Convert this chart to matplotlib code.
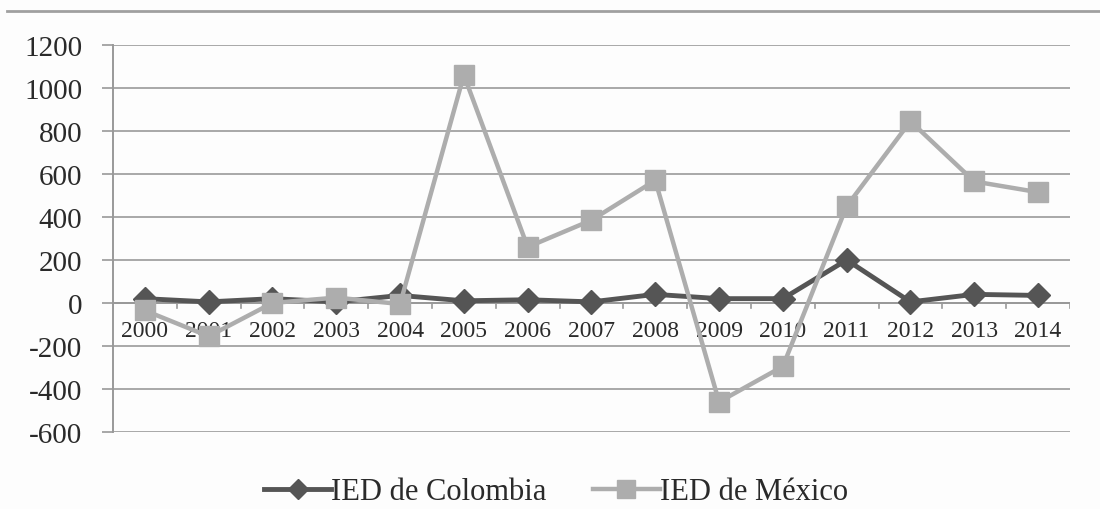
import matplotlib
matplotlib.use("Agg")
import matplotlib.pyplot as plt  # noqa: E402
from matplotlib.lines import Line2D  # noqa: E402
from matplotlib import rcParams  # noqa: E402

rcParams["font.family"] = "Liberation Serif"
rcParams["axes.unicode_minus"] = False

# foreign direct investment, yearly
years = ["2000", "2001", "2002", "2003", "2004", "2005", "2006", "2007",
         "2008", "2009", "2010", "2011", "2012", "2013", "2014"]
ied_colombia = [20, 5, 20, 5, 35, 10, 15, 5, 40, 20, 20, 200, 5, 40, 35]
ied_mexico = [-35, -155, 0, 25, -5, 1060, 260, 385, 570, -460, -295, 450, 845, 565, 515]

fig = plt.figure(figsize=(11, 5.1), dpi=100, facecolor="#fdfdfd")
ax = fig.add_axes([0.1027, 0.151, 0.87, 0.759])
ax.set_facecolor("#fdfdfd")

x = list(range(len(years)))
ax.plot(x, ied_colombia, color="#555555", lw=3.5, marker="D", ms=12,
        label="IED de Colombia", zorder=3)
ax.plot(x, ied_mexico, color="#adadad", lw=3.2, marker="s", ms=15,
        label="IED de México", zorder=4)

ax.set_xlim(-0.5, len(years) - 0.5)
ax.set_ylim(-600, 1200)
ax.set_yticks(range(-600, 1201, 200))
ax.tick_params(axis="y", labelsize=21, length=8, width=1.2, color="#999999",
               labelcolor="#2a2a2a", pad=14)
ax.grid(axis="y", color="#a8a8a8", lw=1.4)
ax.set_axisbelow(True)

for s in ["top", "right", "bottom"]:
    ax.spines[s].set_visible(False)
ax.spines["left"].set_color("#999999")
ax.spines["left"].set_linewidth(1.4)

# category axis sits on the zero line
ax.axhline(0, color="#999999", lw=1.4, zorder=1)
ax.set_xticks([])
for i, yr in enumerate(years):
    ax.text(i, -80, yr, ha="center", va="top", fontsize=17, color="#2a2a2a")
for b in range(len(years) + 1):
    ax.plot([b - 0.5, b - 0.5], [0, -25], color="#999999", lw=1.2, zorder=1)

ax.legend(loc="center", bbox_to_anchor=(0.463, -0.155), ncol=2,
          frameon=False, fontsize=22, handlelength=2.2, handletextpad=0.0,
          columnspacing=1.5, markerscale=0.85, borderaxespad=0,
          labelcolor="#2a2a2a")

fig.add_artist(Line2D([0.006, 1.0], [0.976, 0.976], color="#a0a0a0", lw=2))

fig.savefig("out.png", dpi=100, facecolor=fig.get_facecolor())
